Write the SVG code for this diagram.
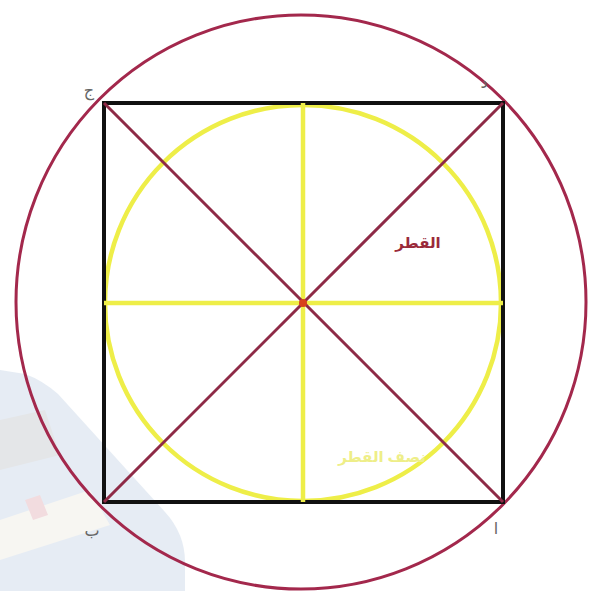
<svg xmlns="http://www.w3.org/2000/svg" width="593" height="591" viewBox="0 0 593 591">
<style>
.outer{fill:none;stroke:#a3284c;stroke-width:3}
.sq{fill:none;stroke:#111;stroke-width:4}
.yel{fill:none;stroke:#eeee48;stroke-width:4.5}
.diag{stroke:#8e2a46;stroke-width:3}
.lbl{font-family:"Noto Sans","DejaVu Sans",sans-serif;font-size:16px;fill:#666}
</style>
<rect width="593" height="591" fill="#fff"/>
<g id="watermark" opacity="0.55">
<path d="M0,370 L25,374 Q42,380 58,394 L165,512 Q185,534 185,562 L185,591 L0,591 Z" fill="#d2deec"/>
<path d="M0,420 L45,410 L60,455 L0,470 Z" fill="#cfd2d6"/>
<path d="M0,520 L90,490 L110,525 L0,560 Z" fill="#f2efe9"/>
<path d="M25,500 L40,495 L48,515 L33,520 Z" fill="#e8c0c6"/>
</g>
<g id="outer-circle"><ellipse class="outer" cx="301" cy="302" rx="285" ry="287"/></g>
<g id="inner-circle"><circle class="yel" cx="303" cy="303" r="198"/></g>
<g id="square"><rect class="sq" x="104" y="103" width="399" height="399"/></g>
<g id="connectors">
<line class="yel" x1="303" y1="103" x2="303" y2="502"/>
<line class="yel" x1="104" y1="303" x2="503" y2="303"/>
<line class="diag" x1="104" y1="103" x2="503" y2="502"/>
<line class="diag" x1="503" y1="103" x2="104" y2="502"/>
</g>
<g id="center"><circle cx="303" cy="303" r="4" fill="#d8401c"/></g>
<g id="labels">
<text class="lbl" x="89" y="96" text-anchor="middle">ج</text>
<text class="lbl" x="484" y="88" text-anchor="middle" font-size="12">د</text>
<text class="lbl" x="92" y="536" text-anchor="middle">ب</text>
<text class="lbl" x="496" y="534" text-anchor="middle">ا</text>
<text x="418" y="248" text-anchor="middle" font-family="'Noto Sans','DejaVu Sans',sans-serif" font-size="15" font-weight="bold" fill="#9a2a3a">القطر</text>
<text x="382" y="462" text-anchor="middle" font-family="'Noto Sans','DejaVu Sans',sans-serif" font-size="15" font-weight="bold" fill="#eeee88">نصف القطر</text>
</g>
</svg>
